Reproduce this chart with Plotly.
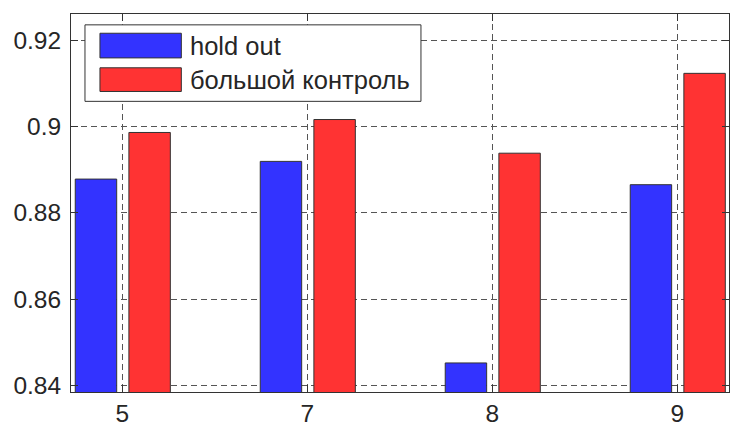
import plotly.graph_objects as go

categories = ["5", "7", "8", "9"]
series_names = ["hold out", "большой контроль"]
hold_out = [0.8878, 0.8919, 0.8452, 0.8865]
big_control = [0.8986, 0.9016, 0.8938, 0.9123]
y_ticks = [0.84, 0.86, 0.88, 0.90, 0.92]
y_tick_labels = ["0.84", "0.86", "0.88", "0.9", "0.92"]

W, H = 730, 427
# target plot area in window pixels
L, R, T, B = 71, 730, 14, 397
FONT = "Liberation Sans, Arial, Helvetica, sans-serif"
TXT = "#262626"
BLUE = "#3333FF"
RED = "#FF3333"
EDGE = "#333333"

fig = go.Figure()
fig.add_trace(go.Bar(x=categories, y=hold_out, name=series_names[0],
                     marker=dict(color=BLUE, line=dict(color=EDGE, width=1)),
                     width=0.224, offset=-0.254, showlegend=False))
fig.add_trace(go.Bar(x=categories, y=big_control, name=series_names[1],
                     marker=dict(color=RED, line=dict(color=EDGE, width=1)),
                     width=0.224, offset=0.036, showlegend=False))

def px_x(p):
    return (p - L) / (R - L)

def px_y(p):
    return (B - p) / (B - T)

# legend box drawn manually (MATLAB-style)
shapes = [
    dict(type="rect", xref="paper", yref="paper",
         x0=px_x(85), x1=px_x(421.5), y0=px_y(102.5), y1=px_y(25),
         line=dict(color=EDGE, width=1), fillcolor="white", layer="above"),
    dict(type="rect", xref="paper", yref="paper",
         x0=px_x(100), x1=px_x(181.5), y0=px_y(58.5), y1=px_y(33.5),
         line=dict(color=EDGE, width=1), fillcolor=BLUE, layer="above"),
    dict(type="rect", xref="paper", yref="paper",
         x0=px_x(100), x1=px_x(181.5), y0=px_y(92.5), y1=px_y(68.5),
         line=dict(color=EDGE, width=1), fillcolor=RED, layer="above"),
]
annotations = [
    dict(xref="paper", yref="paper", x=px_x(188), y=px_y(46), text=series_names[0],
         showarrow=False, xanchor="left", yanchor="middle",
         font=dict(family=FONT, size=25.5, color=TXT)),
    dict(xref="paper", yref="paper", x=px_x(188), y=px_y(80.5), text=series_names[1],
         showarrow=False, xanchor="left", yanchor="middle",
         font=dict(family=FONT, size=25.5, color=TXT)),
]

fig.update_layout(
    width=W, height=H,
    margin=dict(l=L, r=W - R, t=T, b=H - B, pad=0),
    paper_bgcolor="white", plot_bgcolor="white",
    barmode="overlay",
    shapes=shapes, annotations=annotations,
    font=dict(family=FONT, size=24.5, color=TXT),
    showlegend=False,
)
fig.update_xaxes(type="category", range=[-0.277, 3.28],
                 showline=True, linecolor=EDGE, linewidth=1, mirror="ticks",
                 ticks="inside", ticklen=7, tickcolor=EDGE,
                 showgrid=True, gridcolor="#555555", gridwidth=1, griddash="6px,4px",
                 tickfont=dict(family=FONT, size=24.5, color=TXT), zeroline=False,
                 ticklabelstandoff=0)
fig.update_yaxes(range=[0.83847, 0.92605],
                 tickvals=y_ticks, ticktext=y_tick_labels,
                 showline=True, linecolor=EDGE, linewidth=1, mirror="ticks",
                 ticks="inside", ticklen=7, tickcolor=EDGE,
                 showgrid=True, gridcolor="#555555", gridwidth=1, griddash="6px,4px",
                 tickfont=dict(family=FONT, size=24.5, color=TXT), zeroline=False,
                 ticklabelstandoff=4)

fig.write_html("out.html",
               config={"displayModeBar": False},
               post_script="document.body.style.margin='0px';document.body.style.overflow='hidden';")
